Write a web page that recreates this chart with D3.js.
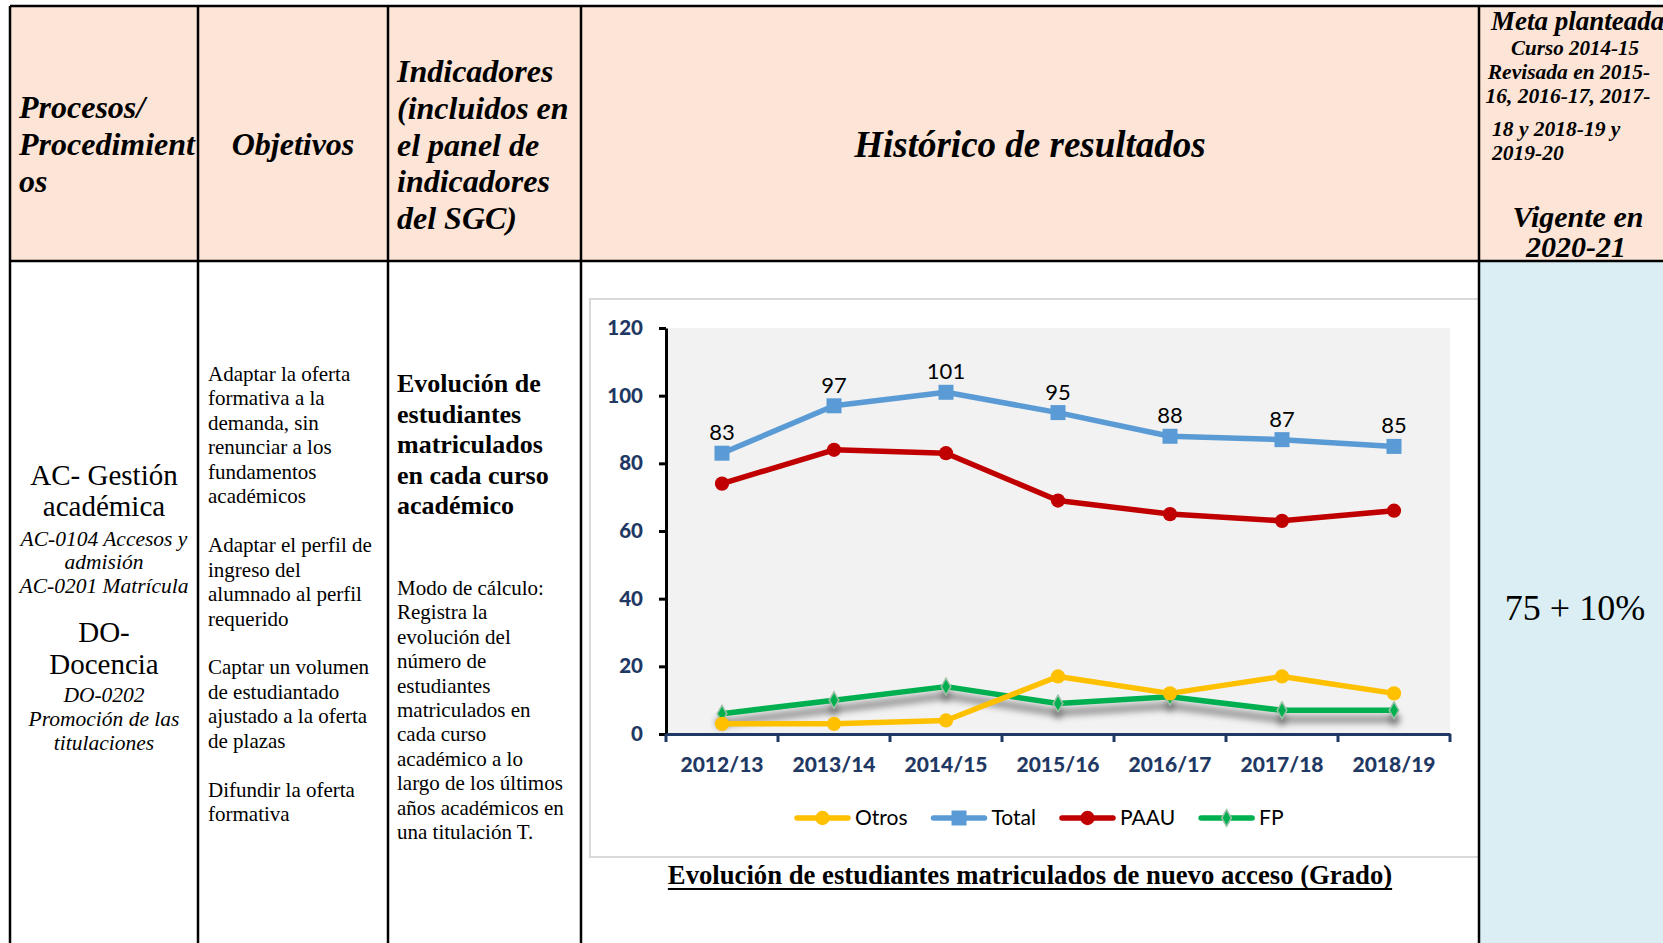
<!DOCTYPE html>
<html>
<head>
<meta charset="utf-8">
<script src="https://cdn.jsdelivr.net/npm/d3@7"></script>
<style>
  html, body { margin: 0; padding: 0; background: #ffffff; overflow: hidden; }
  svg { display: block; }
</style>
</head>
<body>
<svg id="page" width="1663" height="943"></svg>
<script>

// ---- data ----
const categories = ['2012/13', '2013/14', '2014/15', '2015/16', '2016/17', '2017/18', '2018/19'];
const otros = [3, 3, 4, 17, 12, 17, 12];
const total = [83, 97, 101, 95, 88, 87, 85];
const paau = [74, 84, 83, 69, 65, 63, 66];
const fp = [6, 10, 14, 9, 11, 7, 7];
const yTicks = [0, 20, 40, 60, 80, 100, 120];
const legendOrder = ['Otros', 'Total', 'PAAU', 'FP'];

const series = [
  {name: 'Otros', values: otros, color: '#FFC000', marker: 'circle'},
  {name: 'Total', values: total, color: '#5B9BD5', marker: 'square', labels: true},
  {name: 'PAAU', values: paau, color: '#C00000', marker: 'circle'},
  {name: 'FP', values: fp, color: '#00B050', marker: 'diamond', shadow: true}
];

// drawing order (last on top)
const drawOrder = ['FP', 'Otros', 'PAAU', 'Total'];

const serif = "'Liberation Serif', 'Times New Roman', serif";
const sans = "Lato, Carlito, Calibri, sans-serif";
const navy = '#1F3864';

const W = 1663, H = 943;
const colX = [10, 198, 388, 581, 1479];
const headerTop = 6, headerBottom = 261;

const svg = d3.select('#page');


function addLines(selection, lines, x, y0, step, font) {
  lines.forEach((t, i) => {
    if (t === null) return;
    selection.append('text')
        .attr('x', x)
        .attr('y', y0 + i * step)
        .attr('text-anchor', font.anchor || 'start')
        .style('font-family', font.family || serif)
        .style('font-size', `${font.size}px`)
        .style('font-weight', font.weight || 'normal')
        .style('font-style', font.style || 'normal')
        .style('fill', '#000')
        .text(t);
  });
}


function drawTable(selection) {
  selection.append('rect')
      .attr('x', colX[0]).attr('y', headerTop)
      .attr('width', W - colX[0]).attr('height', headerBottom - headerTop)
      .attr('fill', '#FCE4D6');
  selection.append('rect')
      .attr('x', colX[4]).attr('y', headerBottom)
      .attr('width', W - colX[4]).attr('height', H - headerBottom)
      .attr('fill', '#DAEEF3');

  const lines = selection.append('g')
      .attr('stroke', '#000')
      .attr('stroke-width', 2.5);
  [headerTop, headerBottom].forEach(y => {
    lines.append('line').attr('x1', colX[0]).attr('x2', W).attr('y1', y).attr('y2', y);
  });
}


function drawHeader(selection) {
  const bi = {size: 32, weight: 'bold', style: 'italic'};
  addLines(selection, ['Procesos/', 'Procedimient', 'os'], 19, 118, 37, bi);
  addLines(selection, ['Objetivos'], 293, 155, 0, {...bi, anchor: 'middle'});
  addLines(selection, ['Indicadores', '(incluidos en', 'el panel de', 'indicadores', 'del SGC)'],
    397, 82, 36.8, bi);
  addLines(selection, ['Histórico de resultados'], 1030, 157, 0,
    {size: 37, weight: 'bold', style: 'italic', anchor: 'middle'});

  // Meta column
  const meta = [
    ['Meta planteada', 1491, 30, 27, 'start'],
    ['Curso 2014-15', 1575, 55, 21, 'middle'],
    ['Revisada en 2015-', 1569, 79, 21.5, 'middle'],
    ['16, 2016-17, 2017-', 1568, 103, 21.5, 'middle'],
    ['18 y 2018-19 y', 1492, 136, 21.5, 'start'],
    ['2019-20', 1492, 160, 21.5, 'start'],
    ['Vigente en', 1578, 227, 30, 'middle'],
    ['2020-21', 1576, 257, 30, 'middle']
  ];
  meta.forEach(m => addLines(selection, [m[0]], m[1], m[2], 0,
    {size: m[3], weight: 'bold', style: 'italic', anchor: m[4]}));
}


function drawBody(selection) {
  // column 1
  const c1 = [
    ['AC- Gestión', 485, 29, 'normal'],
    ['académica', 516, 29, 'normal'],
    ['AC-0104 Accesos y', 546, 21.5, 'italic'],
    ['admisión', 569, 21.5, 'italic'],
    ['AC-0201 Matrícula', 593, 21.5, 'italic'],
    ['DO-', 642, 29, 'normal'],
    ['Docencia', 674, 29, 'normal'],
    ['DO-0202', 702, 21.5, 'italic'],
    ['Promoción de las', 726, 21.5, 'italic'],
    ['titulaciones', 750, 21.5, 'italic']
  ];
  c1.forEach(c => addLines(selection, [c[0]], 104, c[1], 0,
    {size: c[2], style: c[3], anchor: 'middle'}));

  // column 2
  addLines(selection, [
    'Adaptar la oferta', 'formativa a la', 'demanda, sin', 'renunciar a los',
    'fundamentos', 'académicos', null,
    'Adaptar el perfil de', 'ingreso del', 'alumnado al perfil', 'requerido', null,
    'Captar un volumen', 'de estudiantado', 'ajustado a la oferta', 'de plazas', null,
    'Difundir la oferta', 'formativa'
  ], 208, 381, 24.45, {size: 21});

  // column 3
  addLines(selection, ['Evolución de', 'estudiantes', 'matriculados', 'en cada curso', 'académico'],
    397, 392, 30.5, {size: 26, weight: 'bold'});
  addLines(selection, [
    'Modo de cálculo:', 'Registra la', 'evolución del', 'número de', 'estudiantes',
    'matriculados en', 'cada curso', 'académico a lo', 'largo de los últimos',
    'años académicos en', 'una titulación T.'
  ], 397, 595, 24.4, {size: 21});

  // meta value
  addLines(selection, ['75 + 10%'], 1575, 620, 0, {size: 36, anchor: 'middle'});
}


function markerPath(type) {
  if (type === 'square') return d3.symbol(d3.symbolSquare, 225)();
  if (type === 'diamond') return d3.symbol(d3.symbolDiamond, 80)();
  return d3.symbol(d3.symbolCircle, 160)();
}


function drawMarkers(selection, s, pts) {
  selection.selectAll('.marker')
    .data(pts)
    .enter().append('path')
      .attr('class', 'marker')
      .attr('transform', d => `translate(${d[0]},${d[1]})`)
      .attr('d', markerPath(s.marker))
      .attr('fill', s.color)
      .attr('stroke', s.marker === 'diamond' ? '#9DBFA6' : 'none')
      .attr('stroke-width', 1.5);
}


function drawChart(selection) {
  // chart area
  selection.append('rect')
      .attr('x', 590).attr('y', 299)
      .attr('width', colX[4] - 590).attr('height', 857 - 299)
      .attr('fill', '#fff')
      .attr('stroke', '#D9D9D9')
      .attr('stroke-width', 2);

  const x = d3.scaleBand().domain(categories).range([666, 1450]).padding(0);
  const y = d3.scaleLinear().domain([0, 120]).range([734, 328]);
  const cx = i => x(categories[i]) + x.bandwidth() / 2;

  // plot area
  selection.append('rect')
      .attr('x', x.range()[0]).attr('y', y(120))
      .attr('width', x.range()[1] - x.range()[0]).attr('height', y(0) - y(120))
      .attr('fill', '#F2F2F2');

  // defs
  const defs = svg.append('defs');
  defs.append('filter')
      .attr('id', 'blur')
      .attr('x', '-10%').attr('y', '-100%')
      .attr('width', '120%').attr('height', '300%')
    .append('feGaussianBlur')
      .attr('stdDeviation', 3);

  const line = d3.line()
      .x((d, i) => cx(i))
      .y(d => y(d));

  const plot = selection.append('g').attr('class', 'series');
  drawOrder.forEach(name => {
    const s = series.find(e => e.name === name);
    const pts = s.values.map((v, i) => [cx(i), y(v)]);
    if (s.shadow) {
      const sh = plot.append('g')
          .attr('transform', 'translate(0,9)')
          .attr('filter', 'url(#blur)')
          .attr('opacity', 0.7);
      sh.append('path')
          .datum(s.values)
          .attr('d', line)
          .attr('fill', 'none')
          .attr('stroke', '#777')
          .attr('stroke-width', 8);
      sh.selectAll('circle')
        .data(pts)
        .enter().append('circle')
          .attr('cx', d => d[0]).attr('cy', d => d[1])
          .attr('r', 6)
          .attr('fill', '#444');
    }
    const g = plot.append('g');
    g.append('path')
        .datum(s.values)
        .attr('d', line)
        .attr('fill', 'none')
        .attr('stroke', s.color)
        .attr('stroke-width', 5.5)
        .attr('stroke-linejoin', 'round');
    g.call(drawMarkers, s, pts);
    if (s.labels) {
      g.selectAll('.dlabel')
        .data(s.values)
        .enter().append('text')
          .attr('class', 'dlabel')
          .attr('x', (d, i) => cx(i))
          .attr('y', d => y(d) - 13)
          .attr('text-anchor', 'middle')
          .style('font-family', sans)
          .style('font-size', '22px')
          .style('fill', '#000')
          .text(d => d);
    }
  });

  // y axis
  const yAxis = selection.append('g')
      .attr('transform', `translate(${x.range()[0]},0)`)
      .call(d3.axisLeft(y).tickValues(yTicks).tickSize(7).tickSizeOuter(0).tickPadding(16));
  yAxis.select('.domain').attr('stroke', '#000').attr('stroke-width', 3);
  yAxis.selectAll('.tick line').attr('stroke', '#000').attr('stroke-width', 3);
  yAxis.selectAll('.tick text')
      .style('font-family', sans)
      .style('font-size', '20.5px')
      .style('font-weight', '900')
      .style('fill', navy);

  // x axis
  const xAxis = selection.append('g')
      .attr('transform', `translate(0,${y(0)})`)
      .call(d3.axisBottom(x).tickSize(0).tickSizeOuter(0));
  xAxis.select('.domain').attr('stroke', navy).attr('stroke-width', 3);
  xAxis.selectAll('.tick text')
      .attr('y', 38).attr('dy', 0)
      .style('font-family', sans)
      .style('font-size', '21px')
      .style('font-weight', '900')
      .style('fill', navy);
  xAxis.selectAll('.bound')
    .data(d3.range(categories.length + 1))
    .enter().append('line')
      .attr('class', 'bound')
      .attr('x1', i => x.range()[0] + i * x.step())
      .attr('x2', i => x.range()[0] + i * x.step())
      .attr('y1', 0).attr('y2', 8)
      .attr('stroke', navy)
      .attr('stroke-width', 3);

  // legend
  const legend = selection.append('g').attr('class', 'legend')
      .attr('transform', 'translate(795,818)');
  let lx = 0;
  legendOrder.forEach(name => {
    const s = series.find(e => e.name === name);
    const item = legend.append('g').attr('transform', `translate(${lx},0)`);
    item.append('line')
        .attr('x1', 2).attr('x2', 53)
        .attr('stroke', s.color)
        .attr('stroke-width', 5.5)
        .attr('stroke-linecap', 'round');
    item.call(drawMarkers, s, [[27.5, 0]]);
    const t = item.append('text')
        .attr('x', 60)
        .attr('dy', '0.35em')
        .style('font-family', sans)
        .style('font-size', '21px')
        .style('fill', '#000')
        .text(s.name);
    lx += 60 + t.node().getComputedTextLength() + 24;
  });

  // caption
  const cap = selection.append('text')
      .attr('x', 1030).attr('y', 884)
      .attr('text-anchor', 'middle')
      .style('font-family', serif)
      .style('font-size', '26.7px')
      .style('font-weight', 'bold')
      .style('fill', '#000')
      .text('Evolución de estudiantes matriculados de nuevo acceso (Grado)');
  const bb = cap.node().getBBox();
  selection.append('line')
      .attr('x1', bb.x).attr('x2', bb.x + bb.width)
      .attr('y1', 889).attr('y2', 889)
      .attr('stroke', '#000')
      .attr('stroke-width', 2);
}


svg.append('g').attr('class', 'table').call(drawTable);
svg.append('g').attr('class', 'chart').call(drawChart);
svg.append('g').attr('class', 'header').call(drawHeader);
svg.append('g').attr('class', 'body').call(drawBody);

// column borders on top of the chart box
svg.append('g').attr('class', 'borders').call(sel => {
  colX.forEach(x => {
    sel.append('line').attr('x1', x).attr('x2', x).attr('y1', headerTop).attr('y2', H)
        .attr('stroke', '#000').attr('stroke-width', 2.5);
  });
});

</script>
</body>
</html>
